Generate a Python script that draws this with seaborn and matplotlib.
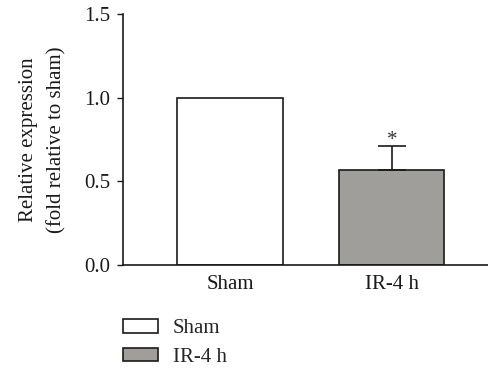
import matplotlib
matplotlib.use("Agg")
import matplotlib.pyplot as plt
import matplotlib.patches as mpatches
import seaborn as sns

categories = ["Sham", "IR-4 h"]
values = [1.0, 0.57]
errors_up = [0.0, 0.14]
colors = ["#ffffff", "#a19e9a"]
yticks = [0.0, 0.5, 1.0, 1.5]
ytick_labels = ["0.0", "0.5", "1.0", "1.5"]

sns.set_style("ticks")
plt.rcParams["font.family"] = ["Liberation Serif", "DejaVu Serif"]

FS = 15
fig = plt.figure(figsize=(4.89, 3.68), dpi=100)
ax = fig.add_axes([123/489, 1-265/368, 1-123/489, (265-14)/368])

sns.barplot(x=categories, y=values, hue=categories, palette=colors, order=categories,
            hue_order=categories, width=0.65, edgecolor="#1a1a1a", linewidth=1.2,
            legend=False, ax=ax)

ax.errorbar([1], [values[1]], yerr=[[0], [errors_up[1]]], fmt="none",
            ecolor="#1a1a1a", elinewidth=1.2, capsize=10, capthick=1.2)
ax.text(1, values[1] + errors_up[1] - 0.02, "*", ha="center", va="bottom",
        fontsize=FS, color="#333333")

ax.set_xlim(-0.66, 1.6)
ax.set_ylim(0, 1.5)
ax.set_yticks(yticks)
ax.set_yticklabels(ytick_labels)
ax.tick_params(axis="y", length=4, width=1, labelsize=FS, pad=5, colors="#1a1a1a")
ax.tick_params(axis="x", length=0, labelsize=FS, pad=7, colors="#1a1a1a")
ax.set_ylabel("Relative expression\n(fold relative to sham)", fontsize=FS,
              color="#1a1a1a", labelpad=13, linespacing=1.6)
ax.set_xlabel("")
sns.despine(ax=ax)
for s in ["left", "bottom"]:
    ax.spines[s].set_linewidth(1.2)
    ax.spines[s].set_color("#1a1a1a")

handles = [mpatches.Patch(facecolor=c, edgecolor="#1a1a1a", linewidth=1.2, label=l)
           for c, l in zip(colors, categories)]
fig.legend(handles=handles, loc="upper left", bbox_to_anchor=(121/489, 1-317/368),
           frameon=False, fontsize=FS, handlelength=1.7, handleheight=0.62,
           handletextpad=0.7, labelspacing=0.45, borderaxespad=0, borderpad=0.1)

fig.savefig("out.png", dpi=100)
